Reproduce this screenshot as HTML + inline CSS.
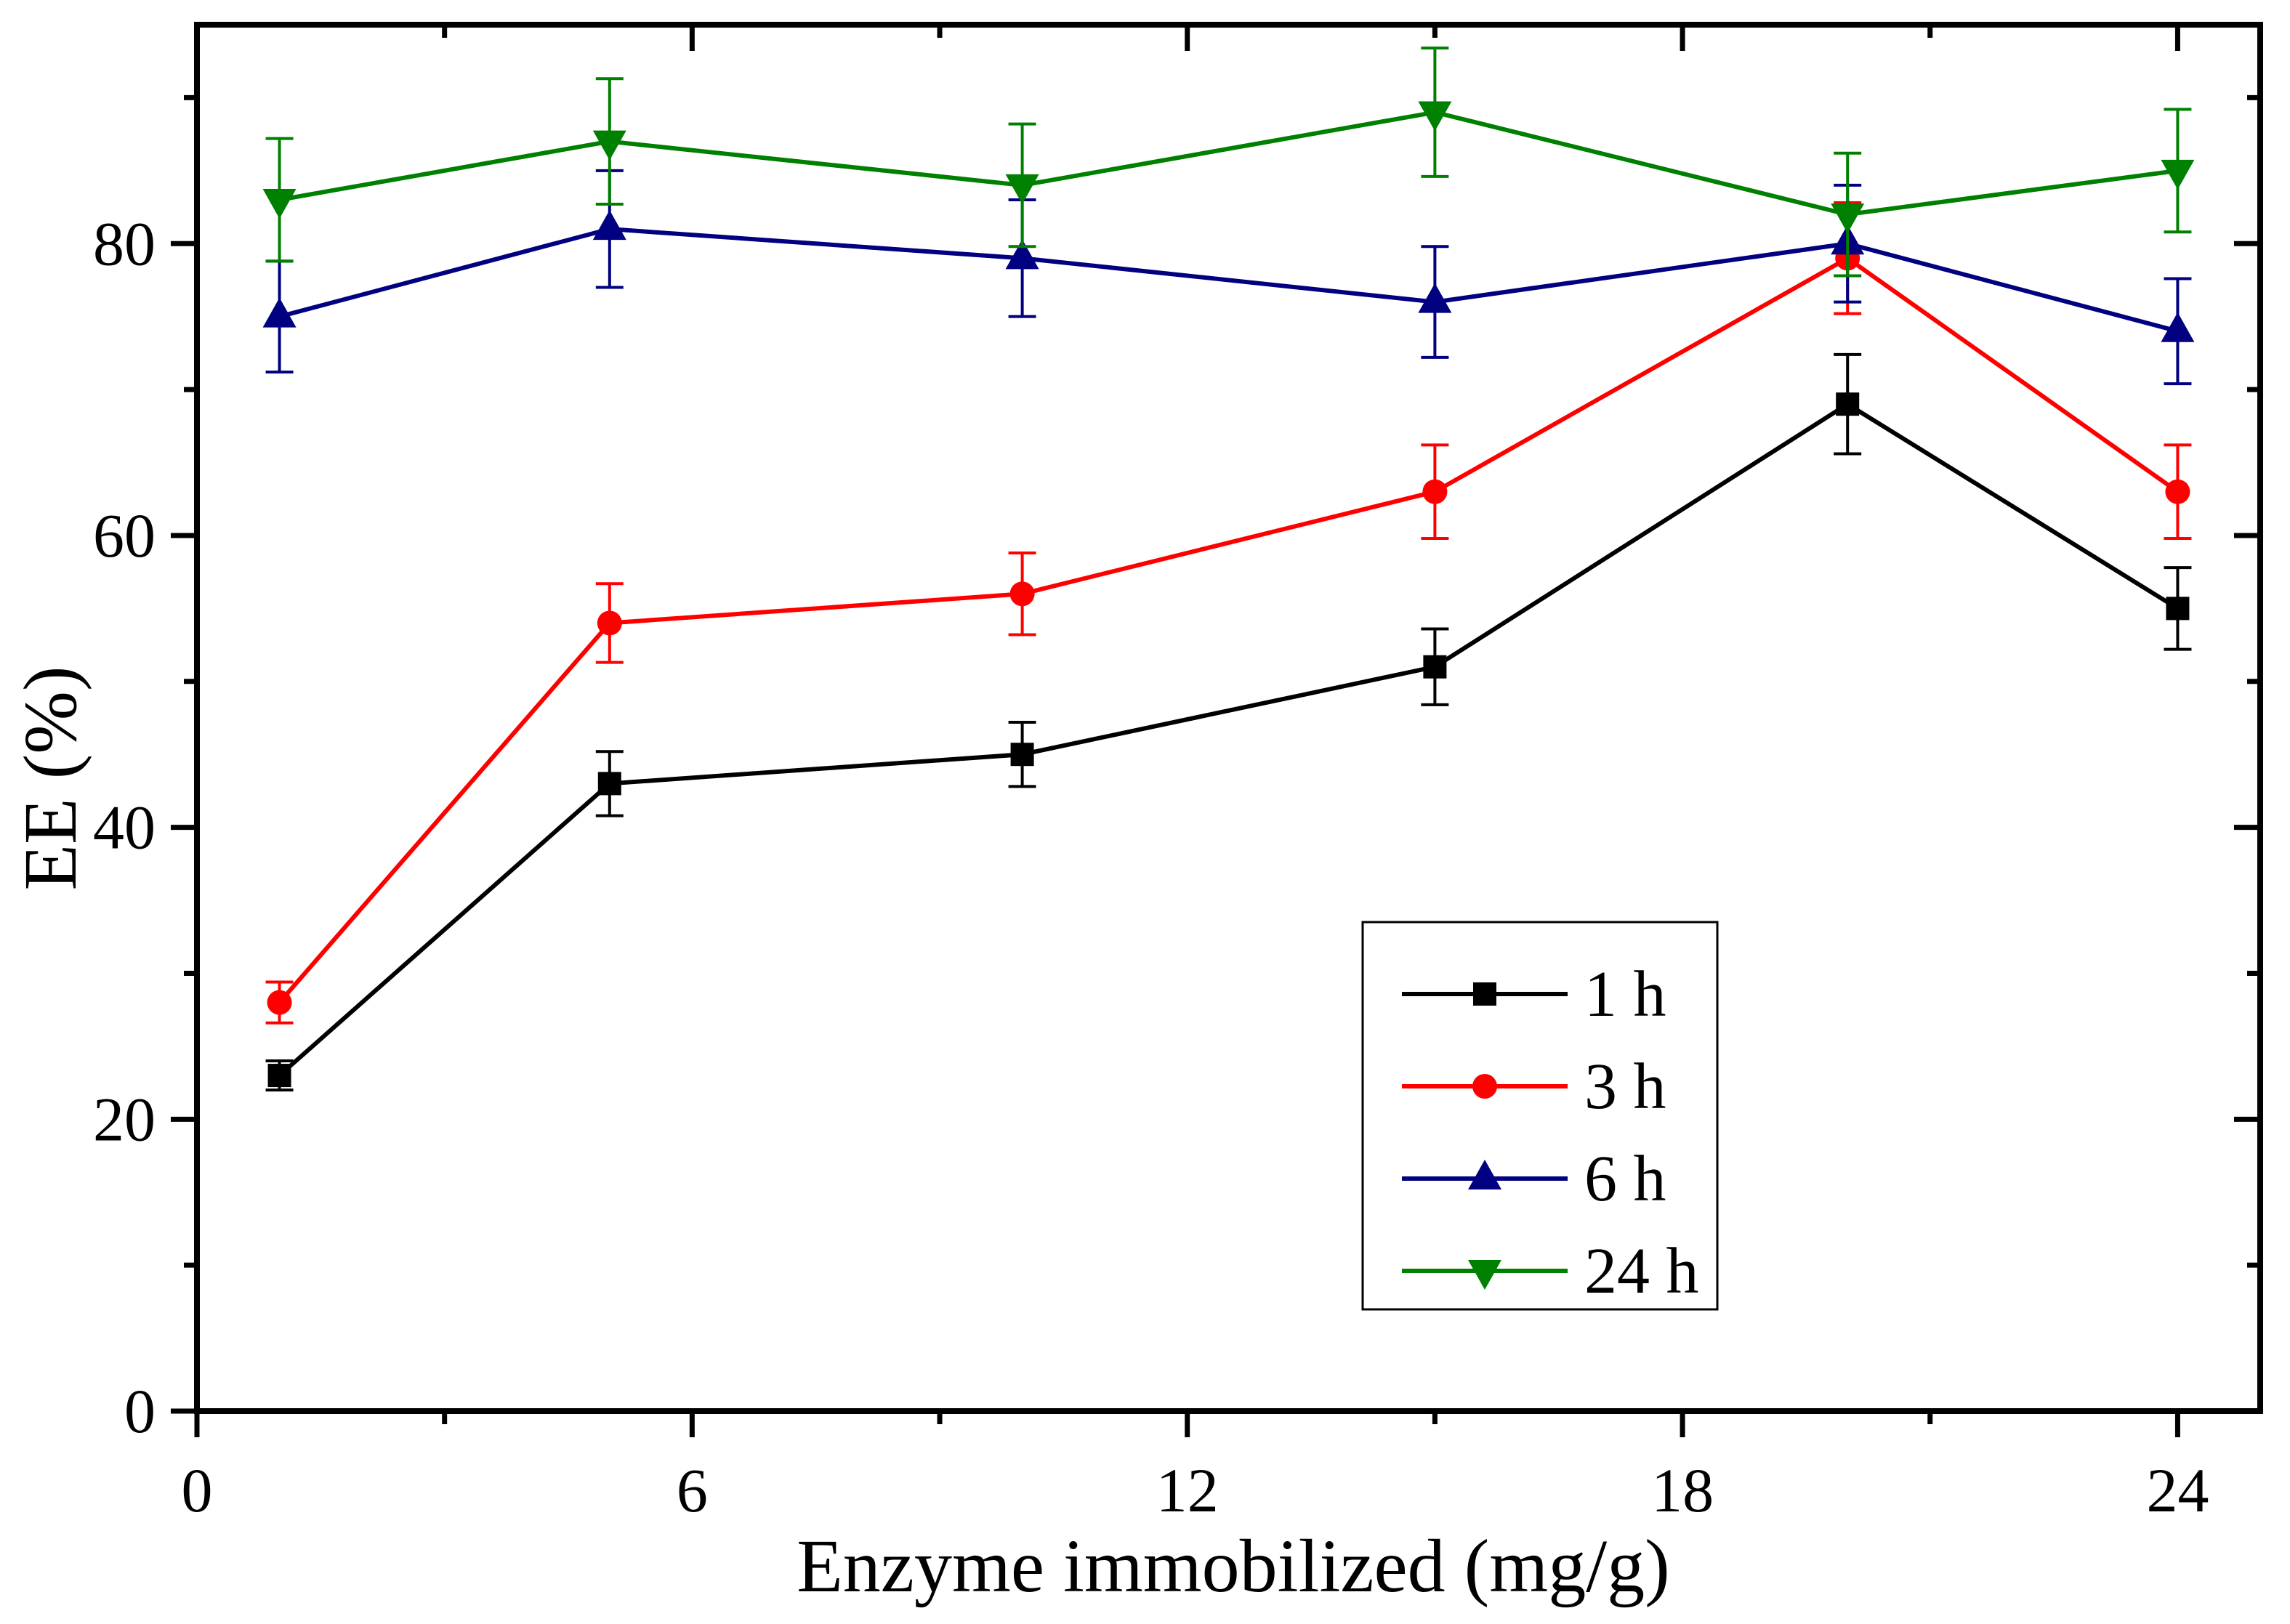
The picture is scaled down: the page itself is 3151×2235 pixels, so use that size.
<!DOCTYPE html>
<html><head><meta charset="utf-8"><style>
html,body{margin:0;padding:0;background:#fff;}
svg{display:block;}
text{font-family:"Liberation Serif",serif;fill:#000;}
</style></head><body>
<svg id="chart" width="3151" height="2235" viewBox="0 0 3151 2235" xmlns="http://www.w3.org/2000/svg">
<g id="grid-layer"></g>
<g id="series-layer"></g>
<g id="axes-layer"></g>
<g id="legend-layer"></g>
</svg>
<script>
const xValues = [1, 5, 10, 15, 20, 24];
const series1h = [23, 43, 45, 51, 69, 55];
const err1h = [1.0, 2.2, 2.2, 2.6, 3.4, 2.8];
const series3h = [28, 54, 56, 63, 79, 63];
const err3h = [1.4, 2.7, 2.8, 3.2, 3.8, 3.2];
const series6h = [75, 81, 79, 76, 80, 74];
const err6h = [3.8, 4.0, 4.0, 3.8, 4.0, 3.6];
const series24h = [83, 87, 84, 89, 82, 85];
const err24h = [4.2, 4.3, 4.2, 4.4, 4.2, 4.2];
const seriesNames = ["1 h", "3 h", "6 h", "24 h"];
const xTickLabels = ["0", "6", "12", "18", "24"];
const yTickLabels = ["0", "20", "40", "60", "80"];

const NS = "http://www.w3.org/2000/svg";
const L = 271, R = 3110, T = 34, B = 1942;
const xMin = 0, xMax = 25, yMin = 0, yMax = 95;
function xs(v){ return L + (v - xMin) / (xMax - xMin) * (R - L); }
function ys(v){ return B - (v - yMin) / (yMax - yMin) * (B - T); }
function mk(tag, attrs, parent){
  const e = document.createElementNS(NS, tag);
  for (const k in attrs) e.setAttribute(k, attrs[k]);
  parent.appendChild(e);
  return e;
}
const seriesLayer = document.getElementById("series-layer");
const axesLayer = document.getElementById("axes-layer");
const legendLayer = document.getElementById("legend-layer");

function marker(type, cx, cy, color, parent){
  let m;
  if (type === "square") {
    m = mk("rect", {x: cx - 16, y: cy - 16, width: 32, height: 32, fill: color}, parent);
  } else if (type === "circle") {
    m = mk("circle", {cx: cx, cy: cy, r: 17, fill: color}, parent);
  } else if (type === "up") {
    m = mk("polygon", {points: `${cx},${cy-26} ${cx-23},${cy+15} ${cx+23},${cy+15}`, fill: color}, parent);
  } else {
    m = mk("polygon", {points: `${cx},${cy+26} ${cx-23},${cy-15} ${cx+23},${cy-15}`, fill: color}, parent);
  }
  return m;
}

const allSeries = [
  {vals: series1h, errs: err1h, color: "#000000", m: "square", key: "1h"},
  {vals: series3h, errs: err3h, color: "#ff0000", m: "circle", key: "3h"},
  {vals: series6h, errs: err6h, color: "#000080", m: "up", key: "6h"},
  {vals: series24h, errs: err24h, color: "#008000", m: "down", key: "24h"}
];

allSeries.forEach((s) => {
  const g = mk("g", {}, seriesLayer);
  
  
  const pts = xValues.map((x, i) => xs(x) + "," + ys(s.vals[i])).join(" ");
  const line = mk("polyline", {points: pts, fill: "none", stroke: s.color, "stroke-width": 6}, g);
  
  
  xValues.forEach((x, i) => {
    const cx = xs(x), top = ys(s.vals[i] + s.errs[i]), bot = ys(s.vals[i] - s.errs[i]);
    const eb = mk("path", {d: `M${cx},${top}V${bot}M${cx-19},${top}H${cx+19}M${cx-19},${bot}H${cx+19}`, stroke: s.color, "stroke-width": 4, fill: "none"}, g);
    
    
    const m = marker(s.m, cx, ys(s.vals[i]), s.color, g);
    
    
  });
});

const frame = mk("rect", {x: L, y: T, width: R - L, height: B - T, fill: "none", stroke: "#000", "stroke-width": 8}, axesLayer);



for (let v = 0; v <= 24; v += 3) {
  const x = xs(v), major = v % 6 === 0, len = major ? 36 : 18;
  const t = mk("line", {x1: x, y1: B, x2: x, y2: B + len, stroke: "#000", "stroke-width": 7}, axesLayer);
  
  
  const t2 = mk("line", {x1: x, y1: T, x2: x, y2: T + len, stroke: "#000", "stroke-width": 7}, axesLayer);
  
  
}
xTickLabels.forEach((lab, i) => {
  const tx = mk("text", {x: xs(i * 6), y: 2080, "text-anchor": "middle", "font-size": 86}, axesLayer);
  tx.textContent = lab;
  
  
});
for (let v = 0; v <= 90; v += 10) {
  const y = ys(v), major = v % 20 === 0, len = major ? 36 : 18;
  const t = mk("line", {x1: L - len, y1: y, x2: L, y2: y, stroke: "#000", "stroke-width": 7}, axesLayer);
  
  
  const t2 = mk("line", {x1: R - len, y1: y, x2: R, y2: y, stroke: "#000", "stroke-width": 7}, axesLayer);
  
  
}
yTickLabels.forEach((lab, i) => {
  const tx = mk("text", {x: 214, y: ys(i * 20) + 29, "text-anchor": "end", "font-size": 86}, axesLayer);
  tx.textContent = lab;
  
  
});
const xt = mk("text", {x: 1697, y: 2190, "text-anchor": "middle", "font-size": 104}, axesLayer);
xt.textContent = "Enzyme immobilized (mg/g)";


const yt = mk("text", {x: 0, y: 0, "text-anchor": "middle", "font-size": 104, transform: "translate(104,1071) rotate(-90)"}, axesLayer);
yt.textContent = "EE (%)";



const lbox = mk("rect", {x: 1875, y: 1269, width: 488, height: 533, fill: "#fff", stroke: "#000", "stroke-width": 3}, legendLayer);


const legendY = [1368, 1495, 1622, 1749];
allSeries.forEach((s, i) => {
  const g = mk("g", {}, legendLayer);
  
  
  mk("line", {x1: 1929, y1: legendY[i], x2: 2157, y2: legendY[i], stroke: s.color, "stroke-width": 6}, g);
  marker(s.m, 2043, legendY[i], s.color, g);
  const tx = mk("text", {x: 2180, y: legendY[i] + 30, "font-size": 90}, g);
  tx.textContent = seriesNames[i];
});
</script>
</body></html>
